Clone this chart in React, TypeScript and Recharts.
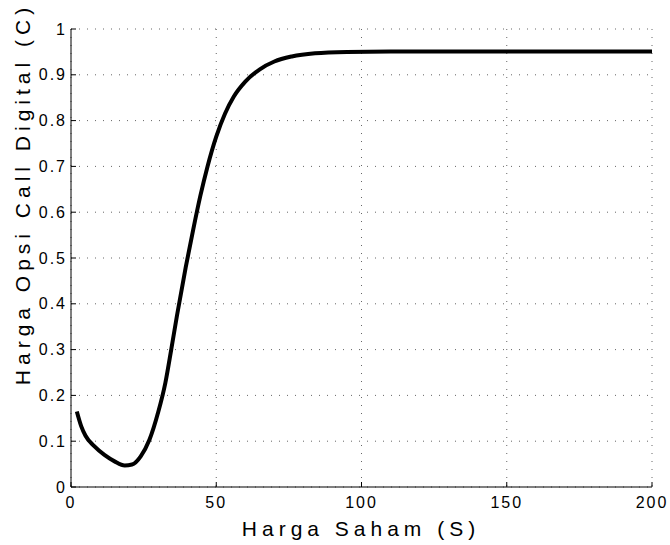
import React from 'react';
import {
  LineChart,
  Line,
  XAxis,
  YAxis,
  CartesianGrid,
  Label,
} from 'recharts';

// harga saham (S) and harga opsi call digital (C)
const hargaSaham = [
  2, 3.5, 5, 8, 11.5, 15, 18.5, 21, 24, 27, 30, 32.5, 34.5, 36.5, 39.5, 42,
  44.5, 47, 50, 53, 56, 60, 65, 70, 76, 84, 95, 110, 130, 150, 170, 200,
];
const hargaOpsi = [
  0.165, 0.133, 0.112, 0.089, 0.07, 0.056, 0.047, 0.049, 0.067, 0.103, 0.163,
  0.228, 0.3, 0.375, 0.48, 0.56, 0.635, 0.7, 0.765, 0.815, 0.852, 0.885,
  0.912, 0.929, 0.94, 0.947, 0.95, 0.951, 0.951, 0.951, 0.951, 0.951,
];

const xTicks = [0, 50, 100, 150, 200];
const yTicks = [0, 0.1, 0.2, 0.3, 0.4, 0.5, 0.6, 0.7, 0.8, 0.9, 1];

const xTitle = 'Harga Saham (S)';
const yTitle = 'Harga Opsi Call Digital (C)';

const data = hargaSaham.map((s, i) => ({ s, c: hargaOpsi[i] }));

const FONT = '"Liberation Sans", Arial, Helvetica, sans-serif';
const tickStyle = { fontSize: 16, fill: '#000', fontFamily: FONT, letterSpacing: 2 };

const App: React.FC = () => {
  return (
    <div style={{ position: 'absolute', left: 0, top: 0, background: '#fff' }}>
      <LineChart
        width={670}
        height={545}
        data={data}
        margin={{ top: 29, right: 18, left: 0, bottom: 0 }}
      >
        <CartesianGrid stroke="#666" strokeDasharray="1 7" />
        <XAxis
          dataKey="s"
          type="number"
          domain={[0, 200]}
          ticks={xTicks}
          height={58}
          stroke="#000"
          tickSize={-5}
          tickMargin={15}
          tick={tickStyle}
        >
          <Label
            content={() => (
              <text
                x={361}
                y={528}
                textAnchor="middle"
                dominantBaseline="central"
                fontSize={21}
                fontFamily={FONT}
                letterSpacing={5}
                fill="#000"
              >
                {xTitle}
              </text>
            )}
          />
        </XAxis>
        <XAxis
          xAxisId="top"
          dataKey="s"
          type="number"
          orientation="top"
          domain={[0, 200]}
          ticks={xTicks}
          height={0}
          stroke="#000"
          tickSize={-5}
          tick={false}
        />
        <YAxis
          type="number"
          domain={[0, 1]}
          ticks={yTicks}
          width={71}
          stroke="#000"
          tickSize={-5}
          tickMargin={9}
          tick={tickStyle}
          tickFormatter={(v: number) => String(v)}
        >
          <Label
            content={() => (
              <text
                x={22}
                y={194}
                transform="rotate(-90 22 194)"
                textAnchor="middle"
                dominantBaseline="central"
                fontSize={21}
                fontFamily={FONT}
                letterSpacing={5}
                fill="#000"
              >
                {yTitle}
              </text>
            )}
          />
        </YAxis>
        <YAxis
          yAxisId="right"
          type="number"
          orientation="right"
          domain={[0, 1]}
          ticks={yTicks}
          width={0}
          stroke="#000"
          tickSize={-5}
          tick={false}
        />
        <Line
          type="monotone"
          dataKey="c"
          stroke="#000"
          strokeWidth={4}
          dot={false}
          isAnimationActive={false}
        />
      </LineChart>
    </div>
  );
};

export default App;
